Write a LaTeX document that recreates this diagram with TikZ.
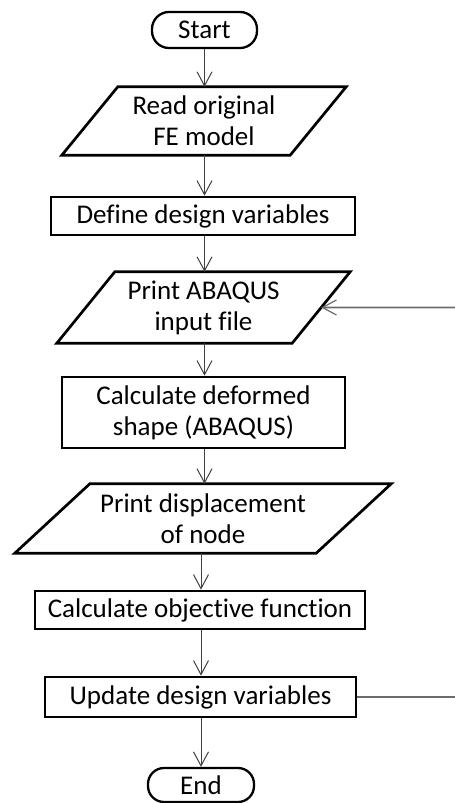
\documentclass[tikz,border=0pt]{standalone}
\usepackage{fontspec}
\setmainfont[Ligatures=NoCommon]{Carlito}
\usetikzlibrary{arrows.meta,calc}
\tikzset{
  txt/.style={font=\fontsize{27}{31}\selectfont, align=center, inner sep=0pt},
  procbox/.style={txt, draw=black, line width=2.7pt, rectangle},
  iobox/.style={txt, draw=none, rectangle},
  ioline/.style={draw=black, line width=2.7pt, line join=miter},
  termbox/.style={txt, draw=black, line width=2.3pt, rounded corners=17pt},
  flow/.style={draw=black!75, line width=1pt, -{Straight Barb[length=14pt,width=15pt,line width=1pt]}},
  back/.style={draw=black!58, line width=1.8pt},
  backarrow/.style={back, -{Straight Barb[length=14pt,width=15pt,line width=1.2pt]}}
}
\begin{document}
\begin{tikzpicture}[x=1pt,y=-1pt]
\useasboundingbox (0,0) rectangle (455,803);
% terminals
\node[termbox, minimum width=105pt, minimum height=36pt] (start) at (204.5,30) {Start};
\node[termbox, minimum width=106pt, minimum height=34pt, rounded corners=16pt] (end) at (201,785) {End};
% io shapes (text holders sized as bounding boxes)
\node[iobox, minimum width=284pt, minimum height=68pt] (read) at (204,121) {Read original\\FE model};
\draw[ioline] ([xshift=56pt]read.north west) -- (read.north east) -- ([xshift=-56pt]read.south east) -- (read.south west) -- cycle;
\node[iobox, minimum width=293pt, minimum height=71pt] (printab) at (203.5,307.5) {Print ABAQUS\\input file};
\draw[ioline] ([xshift=58pt]printab.north west) -- (printab.north east) -- ([xshift=-58pt]printab.south east) -- (printab.south west) -- cycle;
\node[iobox, minimum width=376pt, minimum height=69pt] (printdisp) at (203,518.5) {Print displacement\\of node};
\draw[ioline] ([xshift=75pt]printdisp.north west) -- (printdisp.north east) -- ([xshift=-75pt]printdisp.south east) -- (printdisp.south west) -- cycle;
% process boxes
\node[procbox, minimum width=304pt, minimum height=38pt] (define) at (203,216) {Define design variables};
\node[procbox, minimum width=283pt, minimum height=71pt] (calcdef) at (203.5,412.5) {Calculate deformed\\shape (ABAQUS)};
\node[procbox, minimum width=330pt, minimum height=38pt] (calcobj) at (200,610) {Calculate objective function};
\node[procbox, minimum width=311pt, minimum height=40pt] (update) at (200.5,697) {Update design variables};
% flow arrows
\draw[flow] (start.south) -- (start.south |- read.north);
\draw[flow] (read.south -| start.south) -- (start.south |- define.north);
\draw[flow] (define.south -| start.south) -- (start.south |- printab.north);
\draw[flow] (printab.south -| start.south) -- (start.south |- calcdef.north);
\draw[flow] (calcdef.south -| start.south) -- (start.south |- printdisp.north);
\draw[flow] (printdisp.south -| end.north) -- (end.north |- calcobj.north);
\draw[flow] (calcobj.south -| end.north) -- (end.north |- update.north);
\draw[flow] (update.south -| end.north) -- (end.north);
% feedback
\coordinate (pin) at ($(printab.north east)!0.5!([xshift=-58pt]printab.south east)$);
\coordinate (edgeA) at (455,307.5);
\coordinate (edgeB) at (455,697);
\draw[backarrow] (edgeA) -- (pin);
\draw[back] (update.east) -- (edgeB);
\end{tikzpicture}
\end{document}
